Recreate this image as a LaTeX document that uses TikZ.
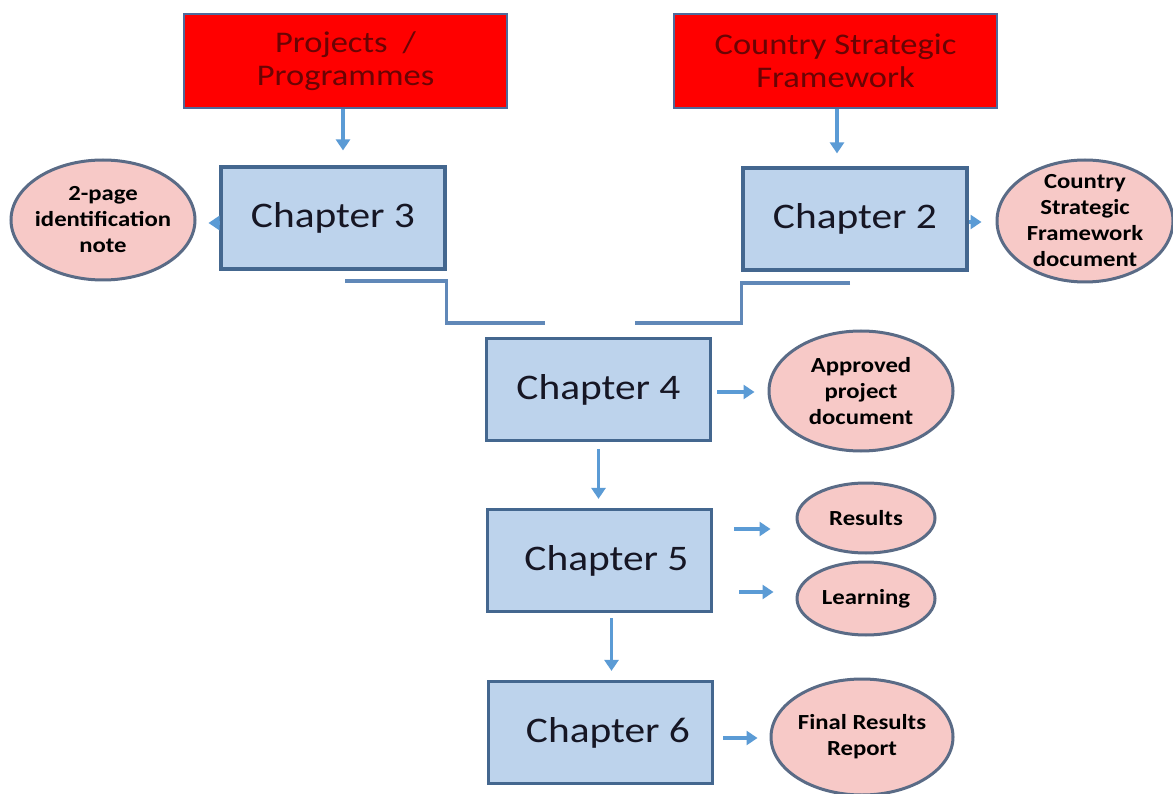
\documentclass[tikz,border=0pt]{standalone}
\usepackage{fontspec}
\setmainfont{Carlito}[FakeStretch=1.15]
\usetikzlibrary{arrows.meta,shapes.geometric}

\definecolor{srcred}{HTML}{FF0000}
\definecolor{srcedge}{HTML}{4F6A9C}
\definecolor{srctext}{HTML}{6A0404}
\definecolor{chfill}{HTML}{BDD3EC}
\definecolor{chedge}{HTML}{44678F}
\definecolor{chtext}{HTML}{161624}
\definecolor{outfill}{HTML}{F7C9C7}
\definecolor{outedge}{HTML}{5A6B86}
\definecolor{arrowblue}{HTML}{5B9BD5}
\definecolor{linkblue}{HTML}{6088B8}

\tikzset{
  source/.style={draw=srcedge, line width=2.4pt, fill=srcred, text=srctext,
    minimum width=323pt, minimum height=94pt, inner sep=0pt, align=center,
    font=\fontsize{30}{33}\selectfont},
  chapter/.style={draw=chedge, line width=3.2pt, fill=chfill, text=chtext,
    minimum width=224pt, minimum height=102pt, inner sep=0pt,
    font=\fontsize{36}{40}\selectfont},
  output/.style={ellipse, draw=outedge, line width=3pt, fill=outfill,
    inner sep=-12pt, align=center, font=\bfseries\fontsize{21.5}{26}\selectfont},
  flow/.style={draw=arrowblue, line width=3.2pt, -{Triangle[width=14pt,length=11pt]}},
  link/.style={draw=linkblue, line width=3.2pt}
}

\begin{document}
\begin{tikzpicture}[x=1pt,y=-1pt]
  \fill[white] (0,0) rectangle (1173,794);
  \useasboundingbox (0,0) rectangle (1173,794);

  % sources
  \node[source] (prog) at (345.5,61) {Projects\hspace{0.5em}/\\Programmes};
  \node[source] (csf) at (835.5,61) {Country Strategic\\Framework};

  % chapters
  \node[chapter] (ch3) at (333,218) {Chapter 3};
  \node[chapter] (ch2) at (855,219) {Chapter 2};
  \node[chapter] (ch4) at (598.5,389.5) {Chapter 4};
  \node[chapter] (ch5) at (599.5,560.5) {\hspace*{14pt}Chapter 5};
  \node[chapter] (ch6) at (600.5,732.5) {\hspace*{15pt}Chapter 6};

  % outputs
  \node[output, minimum width=184pt, minimum height=120pt] (note) at (103,220)
    {2-page\\identification\\note};
  \node[output, minimum width=176pt, minimum height=122pt] (csfdoc) at (1085,221)
    {Country\\Strategic\\Framework\\document};
  \node[output, minimum width=184pt, minimum height=120pt] (apd) at (861,391)
    {Approved\\project\\document};
  \node[output, minimum width=138pt, minimum height=70pt] (res) at (866,518) {Results};
  \node[output, minimum width=138pt, minimum height=73pt] (learn) at (866,598.5) {Learning};
  \node[output, minimum width=182pt, minimum height=116pt] (frr) at (862,737)
    {Final Results\\Report};

  % arrows from the sources
  \draw[flow, shorten >=15pt] ([xshift=-2.5pt]prog.south) -- ([xshift=10pt]ch3.north);
  \draw[flow, shorten >=13pt] ([xshift=1.5pt]csf.south) -- ([xshift=-18pt]ch2.north);

  % arrows to the outputs
  \coordinate (c3out) at ([yshift=-5pt]ch3.west);
  \draw[flow, shorten >=12pt] (c3out) -- (c3out -| note.east);
  \coordinate (c2out) at ([yshift=-3pt]ch2.east);
  \draw[flow, shorten >=14pt] (c2out) -- (c2out -| csfdoc.west);
  \coordinate (c4out) at ([yshift=-2.5pt]ch4.east);
  \draw[flow, shorten <=5pt, shorten >=13pt] (c4out) -- (c4out -| apd.west);
  \coordinate (resin) at ([yshift=-11pt]res.west);
  \draw[flow, shorten <=21pt, shorten >=25pt] (resin -| ch5.east) -- (resin);
  \coordinate (learnin) at ([yshift=6.5pt]learn.west);
  \draw[flow, shorten <=26pt, shorten >=22pt] (learnin -| ch5.east) -- (learnin);
  \coordinate (c6out) at ([yshift=-5.5pt]ch6.east);
  \draw[flow, shorten <=9pt, shorten >=12pt] (c6out) -- (c6out -| frr.west);

  % arrows down the chain
  \draw[flow, shorten <=7pt, shorten >=9pt] (ch4.south) -- (ch4.south |- ch5.north);
  \coordinate (c5down) at ([xshift=12pt]ch5.south);
  \draw[flow, shorten <=5pt, shorten >=9pt] (c5down) -- (c5down |- ch6.north);

  % stepped links joining chapters 3 and 2 towards chapter 4
  \coordinate (l1) at (345,281);
  \coordinate (l2) at (545,323);
  \draw[link] (l1) -| (ch3.east |- l2) -- (l2);
  \coordinate (r1) at (850,283);
  \coordinate (r2) at (635,323);
  \draw[link] (r1) -| (ch2.west |- r2) -- (r2);
\end{tikzpicture}
\end{document}
